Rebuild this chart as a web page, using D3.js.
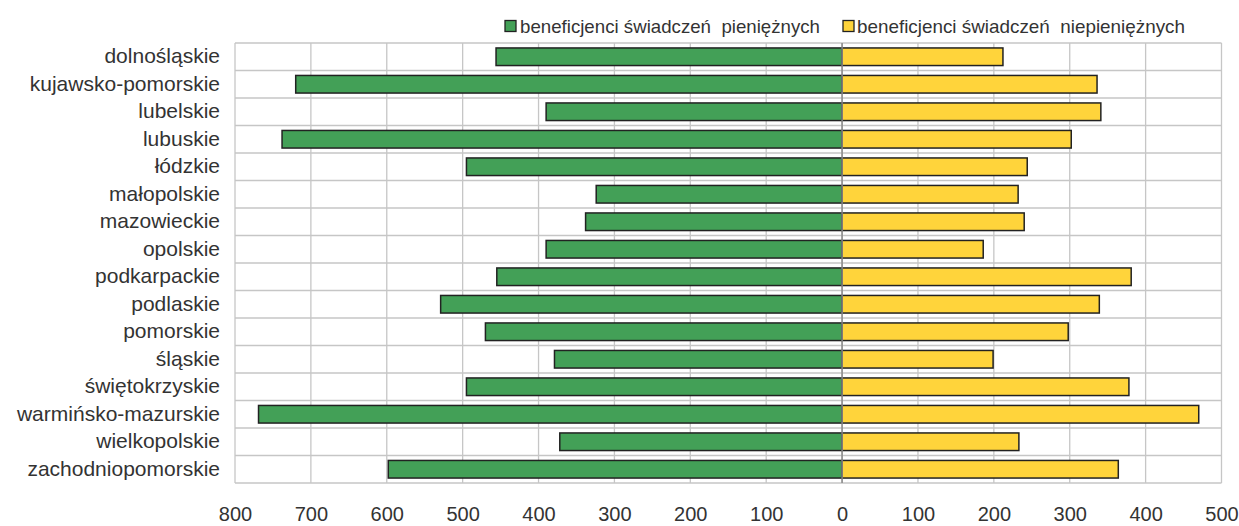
<!DOCTYPE html>
<html>
<head>
<meta charset="utf-8">
<script src="https://cdn.jsdelivr.net/npm/d3@7"></script>
<style>
  body { margin: 0; background: #fff; }
  svg { display: block; font-family: "Liberation Sans", Arial, sans-serif; }
</style>
</head>
<body>
<div id="chart"></div>
<script>
const regions = ["dolnośląskie", "kujawsko-pomorskie", "lubelskie", "lubuskie", "łódzkie",
  "małopolskie", "mazowieckie", "opolskie", "podkarpackie", "podlaskie", "pomorskie",
  "śląskie", "świętokrzyskie", "warmińsko-mazurskie", "wielkopolskie", "zachodniopomorskie"];
const pieniezne = [456, 720, 390, 738, 495, 324, 338, 390, 455, 529, 470, 379, 495, 769, 372, 598];
const niepieniezne = [212, 336, 341, 302, 244, 232, 240, 186, 381, 339, 298, 199, 378, 470, 233, 364];
const xTicks = [-800, -700, -600, -500, -400, -300, -200, -100, 0, 100, 200, 300, 400, 500];
const seriesNames = ["beneficjenci świadczeń  pieniężnych", "beneficjenci świadczeń  niepieniężnych"];
const seriesColors = ["#43a057", "#ffd43b"];

const width = 1239, height = 526;
const plot = {left: 235, right: 1221.5, top: 43, bottom: 483};

const svg = d3.select("#chart").append("svg")
  .attr("width", width)
  .attr("height", height);

const x = d3.scaleLinear()
  .domain([-800, 500])
  .range([plot.left, plot.right]);

const y = d3.scaleBand()
  .domain(regions)
  .range([plot.top, plot.bottom])
  .paddingInner(0.36)
  .paddingOuter(0.18);

// grid
const grid = svg.append("g").attr("stroke", "#c6c6c6").attr("stroke-width", 1.3);
grid.selectAll("line.v")
  .data(xTicks)
  .join("line")
  .attr("class", "v")
  .attr("x1", d => x(d)).attr("x2", d => x(d))
  .attr("y1", plot.top).attr("y2", plot.bottom);
const step = y.step();
grid.selectAll("line.h")
  .data(d3.range(regions.length + 1))
  .join("line")
  .attr("class", "h")
  .attr("x1", plot.left).attr("x2", plot.right)
  .attr("y1", i => plot.top + i * step).attr("y2", i => plot.top + i * step);

// bars
const bars = svg.append("g").attr("stroke", "#222").attr("stroke-width", 1.5);
bars.selectAll("rect.neg")
  .data(regions)
  .join("rect")
  .attr("class", "neg")
  .attr("x", (d, i) => x(-pieniezne[i]))
  .attr("y", d => y(d))
  .attr("width", (d, i) => x(0) - x(-pieniezne[i]))
  .attr("height", y.bandwidth())
  .attr("fill", seriesColors[0]);
bars.selectAll("rect.pos")
  .data(regions)
  .join("rect")
  .attr("class", "pos")
  .attr("x", x(0))
  .attr("y", d => y(d))
  .attr("width", (d, i) => x(niepieniezne[i]) - x(0))
  .attr("height", y.bandwidth())
  .attr("fill", seriesColors[1]);

// zero line
svg.append("line")
  .attr("x1", x(0)).attr("x2", x(0))
  .attr("y1", plot.top).attr("y2", plot.bottom)
  .attr("stroke", "#8a8a8a").attr("stroke-width", 1.5);

// axes
const xAxis = svg.append("g")
  .attr("transform", `translate(0,${plot.bottom})`)
  .call(d3.axisBottom(x).tickValues(xTicks).tickFormat(d => Math.abs(d)).tickSize(0).tickPadding(24));
xAxis.select(".domain").remove();
xAxis.selectAll("text").attr("font-size", 20).attr("fill", "#333").attr("font-family", "Liberation Sans, Arial, sans-serif");

const yAxis = svg.append("g")
  .attr("transform", `translate(${plot.left},0)`)
  .call(d3.axisLeft(y).tickSize(0).tickPadding(15));
yAxis.select(".domain").remove();
yAxis.selectAll("text").attr("font-size", 21).attr("fill", "#333").attr("font-family", "Liberation Sans, Arial, sans-serif");

// legend
const legendPos = [{sx: 505, tx: 520, len: 300}, {sx: 843, tx: 857, len: 328}];
const legend = svg.append("g");
legend.selectAll("rect")
  .data(seriesNames)
  .join("rect")
  .attr("x", (d, i) => legendPos[i].sx)
  .attr("y", 20.5)
  .attr("width", 11).attr("height", 11)
  .attr("fill", (d, i) => seriesColors[i])
  .attr("stroke", "#222").attr("stroke-width", 1.3);
legend.selectAll("text")
  .data(seriesNames)
  .join("text")
  .attr("x", (d, i) => legendPos[i].tx)
  .attr("y", 33)
  .attr("font-size", 19)
  .attr("fill", "#333")
  .attr("textLength", (d, i) => legendPos[i].len)
  .attr("lengthAdjust", "spacingAndGlyphs")
  .style("white-space", "pre")
  .text(d => d);
</script>
</body>
</html>
